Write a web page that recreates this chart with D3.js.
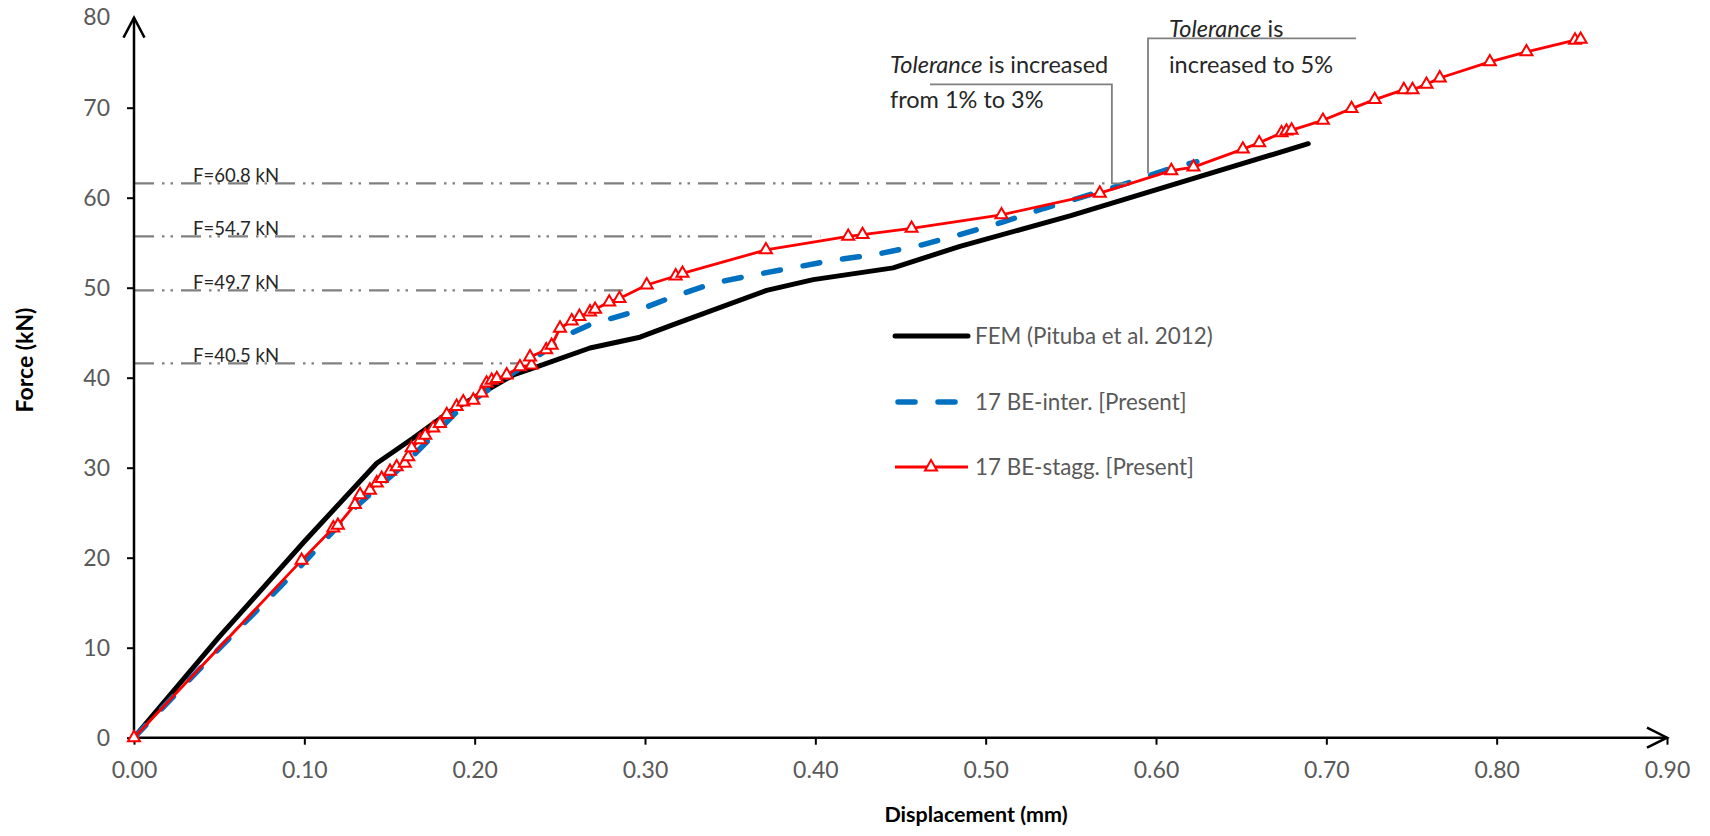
<!DOCTYPE html>
<html>
<head>
<meta charset="utf-8">
<script src="https://cdn.jsdelivr.net/npm/d3@7"></script>
<style>
  body { margin: 0; background: #fff; }
  text { font-family: Lato, "Noto Sans", sans-serif; }
</style>
</head>
<body>
<svg id="chart"></svg>
<script>
// FEM (Pituba et al. 2012)
const femX = [0, 0.05, 0.10, 0.1425, 0.164, 0.185, 0.207, 0.2227, 0.2364, 0.2677, 0.297, 0.3166, 0.3714, 0.3988, 0.4457, 0.4849, 0.55, 0.6894];
const femY = [0, 11.2, 21.8, 30.5, 33.3, 36.2, 38.6, 40.3, 41.2, 43.3, 44.5, 45.9, 49.7, 50.9, 52.2, 54.6, 58.0, 66.0];

// 17 BE-inter. [Present]
const interX = [0, 0.05, 0.10, 0.13, 0.16, 0.19, 0.22, 0.24, 0.256, 0.2677, 0.293, 0.3166, 0.34, 0.3636, 0.389, 0.4125, 0.4242, 0.438, 0.4614, 0.4868, 0.5103, 0.534, 0.557, 0.5828, 0.606, 0.624];
const interY = [0, 9.9, 19.5, 25.6, 30.6, 36.3, 40.2, 42.8, 44.9, 45.9, 47.3, 49.0, 50.5, 51.4, 52.3, 53.1, 53.4, 53.8, 54.7, 56.0, 57.3, 58.8, 60.1, 61.6, 63.1, 64.0];

// 17 BE-stagg. [Present]
const staggX = [0, 0.0984, 0.117, 0.1197, 0.1297, 0.1327, 0.1385, 0.1425, 0.1454, 0.1503, 0.1542, 0.159, 0.161, 0.163, 0.168, 0.171, 0.1757, 0.1796, 0.1836, 0.1894, 0.1933, 0.1992, 0.2041, 0.207, 0.210, 0.213, 0.2188, 0.2266, 0.2334, 0.2325, 0.242, 0.2452, 0.2501, 0.257, 0.2615, 0.2677, 0.2707, 0.279, 0.285, 0.301, 0.318, 0.322, 0.371, 0.4193, 0.4277, 0.4565, 0.5093, 0.567, 0.609, 0.622, 0.651, 0.6606, 0.6737, 0.6766, 0.6796, 0.698, 0.7148, 0.7284, 0.7455, 0.7506, 0.7588, 0.7666, 0.796, 0.8175, 0.846, 0.8493];
const staggY = [0, 19.7, 23.3, 23.6, 25.9, 27.0, 27.5, 28.3, 28.8, 29.6, 30.1, 30.5, 31.2, 32.2, 33.1, 33.6, 34.4, 34.9, 35.9, 36.8, 37.3, 37.5, 38.3, 39.4, 39.7, 39.9, 40.3, 41.2, 41.4, 42.3, 43.1, 43.6, 45.5, 46.3, 46.8, 47.3, 47.6, 48.4, 48.8, 50.3, 51.3, 51.6, 54.2, 55.7, 55.9, 56.6, 58.1, 60.5, 63.0, 63.4, 65.4, 66.1, 67.2, 67.4, 67.5, 68.6, 69.9, 70.9, 72.0, 72.0, 72.6, 73.3, 75.1, 76.2, 77.5, 77.6];

// force level lines (drawn where read on the picture) and their labels
const refLabels = ["F=60.8 kN", "F=54.7 kN", "F=49.7 kN", "F=40.5 kN"];
const refLevels = [61.6, 55.7, 49.7, 41.6];
const refEnds = [0.573, 0.403, 0.287, 0.228];

const xTicks = [0, 0.1, 0.2, 0.3, 0.4, 0.5, 0.6, 0.7, 0.8, 0.9];
const yTicks = [0, 10, 20, 30, 40, 50, 60, 70, 80];

const seriesNames = ["FEM (Pituba et al. 2012)", "17 BE-inter. [Present]", "17 BE-stagg. [Present]"];

const width = 1710, height = 836;
const svg = d3.select("#chart").attr("width", width).attr("height", height);

const x = d3.scaleLinear().domain([0, 0.9]).range([134, 1667]);
const y = d3.scaleLinear().domain([0, 80]).range([737.7, 17.7]);

const zip = (a, b) => a.map((d, i) => [d, b[i]]);
const fem = zip(femX, femY), inter = zip(interX, interY), stagg = zip(staggX, staggY);

const line = d3.line().x(d => x(d[0])).y(d => y(d[1]));

// reference dash-dot lines
const refG = svg.append("g");
refLevels.forEach((lv, i) => {
    refG.append("line")
        .attr("x1", x(0)).attr("x2", x(refEnds[i]))
        .attr("y1", y(lv)).attr("y2", y(lv))
        .attr("stroke", "#808080").attr("stroke-width", 2.2)
        .attr("stroke-dasharray", "20,8,2.5,6,2.5,8");
    refG.append("text")
        .attr("x", 193).attr("y", y(lv) - 1)
        .attr("font-size", 18.5).attr("fill", "#262626")
        .text(refLabels[i]);
});

// axes with ticks
const xAxis = svg.append("g").attr("transform", `translate(0,${y(0)})`)
    .call(d3.axisBottom(x).tickValues(xTicks).tickFormat(d3.format(".2f")).tickSize(7));
xAxis.select(".domain").remove();
xAxis.selectAll("line").attr("stroke", "#000").attr("stroke-width", 2);
xAxis.selectAll("text").attr("y", 40).attr("dy", null)
    .attr("fill", "#595959").attr("font-size", 23).attr("font-family", "Lato, sans-serif");

const yAxis = svg.append("g").attr("transform", `translate(${x(0)},0)`)
    .call(d3.axisLeft(y).tickValues(yTicks.filter(d => d < 80)).tickSize(7));
yAxis.select(".domain").remove();
yAxis.selectAll("line").attr("stroke", "#000").attr("stroke-width", 2);
yAxis.selectAll("text").attr("x", -24)
    .attr("fill", "#595959").attr("font-size", 23).attr("font-family", "Lato, sans-serif");
// 80 label sits next to the arrow head
svg.append("text").attr("x", 110).attr("y", y(80)).attr("dy", "0.32em")
    .attr("text-anchor", "end").attr("fill", "#595959").attr("font-size", 23).text("80");

// axis lines with open arrow heads
const axisG = svg.append("g").attr("fill", "none").attr("stroke", "#000").attr("stroke-width", 2.5);
axisG.append("line").attr("x1", x(0)).attr("y1", y(0)).attr("x2", x(0.9)).attr("y2", y(0));
axisG.append("line").attr("x1", x(0)).attr("y1", y(0)).attr("x2", x(0)).attr("y2", y(80));
axisG.append("polyline").attr("points", `${x(0.9) - 20},${y(0) - 10} ${x(0.9)},${y(0)} ${x(0.9) - 20},${y(0) + 10}`);
axisG.append("polyline").attr("points", `${x(0) - 10.5},${y(80) + 20} ${x(0)},${y(80)} ${x(0) + 10.5},${y(80) + 20}`);

// axis titles
svg.append("text").attr("x", 976).attr("y", 822).attr("text-anchor", "middle")
    .attr("font-weight", "bold").attr("font-size", 21.5).attr("fill", "#000")
    .text("Displacement (mm)");
svg.append("text").attr("transform", "translate(33,360) rotate(-90)").attr("text-anchor", "middle")
    .attr("font-weight", "bold").attr("font-size", 23).attr("fill", "#000")
    .text("Force (kN)");

// series
svg.append("path").datum(fem).attr("d", line)
    .attr("fill", "none").attr("stroke", "#000").attr("stroke-width", 5)
    .attr("stroke-linejoin", "round").attr("stroke-linecap", "round");
svg.append("path").datum(inter).attr("d", line)
    .attr("fill", "none").attr("stroke", "#0070C0").attr("stroke-width", 5.5)
    .attr("stroke-dasharray", "17,23").attr("stroke-linecap", "round");
svg.append("path").datum(stagg).attr("d", line)
    .attr("fill", "none").attr("stroke", "#FF0000").attr("stroke-width", 2.8)
    .attr("stroke-linejoin", "round");

const tri = d3.symbol().type(d3.symbolTriangle).size(62);
svg.append("g").selectAll("path").data(stagg).join("path")
    .attr("d", tri)
    .attr("transform", d => `translate(${x(d[0])},${y(d[1])})`)
    .attr("fill", "#fff").attr("stroke", "#FF0000").attr("stroke-width", 2);

// callouts
const callG = svg.append("g");
const c1 = [[0.4673, 72.6], [0.5741, 72.6], [0.5741, 61.6], [0.5829, 61.6]];
const c2 = [[0.7174, 77.7], [0.5953, 77.7], [0.5953, 62.7]];
[c1, c2].forEach(c => callG.append("path").datum(c).attr("d", line)
    .attr("fill", "none").attr("stroke", "#808080").attr("stroke-width", 1.8));

const fs = 23.5;
const t1 = callG.append("text").attr("x", x(0.4438)).attr("y", y(73.85)).attr("font-size", fs).attr("fill", "#262626");
t1.append("tspan").attr("font-style", "italic").text("Tolerance");
t1.append("tspan").text(" is increased");
callG.append("text").attr("x", x(0.4438)).attr("y", y(69.97)).attr("font-size", fs).attr("fill", "#262626")
    .text("from 1% to 3%");
const t2 = callG.append("text").attr("x", x(0.6076)).attr("y", y(77.85)).attr("font-size", fs).attr("fill", "#262626");
t2.append("tspan").attr("font-style", "italic").text("Tolerance");
t2.append("tspan").text(" is");
callG.append("text").attr("x", x(0.6076)).attr("y", y(73.85)).attr("font-size", fs).attr("fill", "#262626")
    .text("increased to 5%");

// legend
const leg = svg.append("g");
const legY = [336, 402, 467];
leg.append("line").attr("x1", 895).attr("x2", 968).attr("y1", legY[0]).attr("y2", legY[0])
    .attr("stroke", "#000").attr("stroke-width", 5).attr("stroke-linecap", "round");
leg.append("line").attr("x1", 898).attr("x2", 960).attr("y1", legY[1]).attr("y2", legY[1])
    .attr("stroke", "#0070C0").attr("stroke-width", 5.5).attr("stroke-linecap", "round")
    .attr("stroke-dasharray", "17,23");
leg.append("line").attr("x1", 895).attr("x2", 968).attr("y1", legY[2]).attr("y2", legY[2])
    .attr("stroke", "#FF0000").attr("stroke-width", 2.8);
leg.append("path").attr("d", tri).attr("transform", `translate(931,${legY[2]})`)
    .attr("fill", "#fff").attr("stroke", "#FF0000").attr("stroke-width", 2);
seriesNames.forEach((n, i) => {
    leg.append("text").attr("x", 975).attr("y", legY[i] + 7.5)
        .attr("font-size", 22.4).attr("fill", "#595959").text(n);
});
</script>
</body>
</html>
